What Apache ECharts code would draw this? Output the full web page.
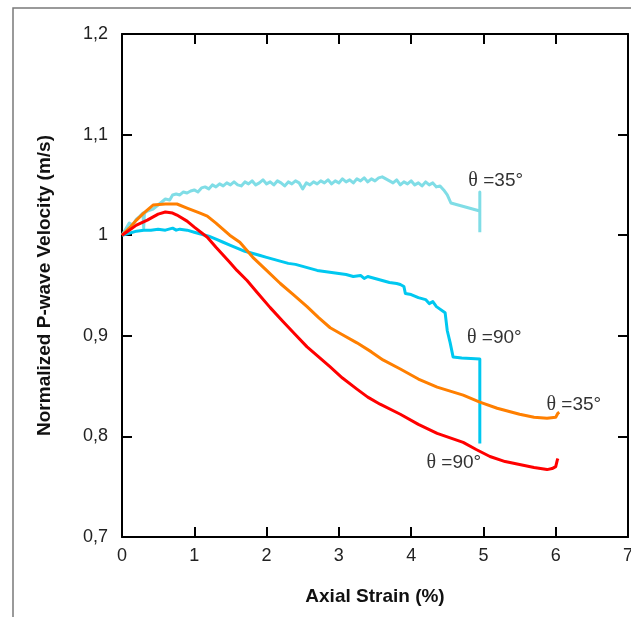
<!DOCTYPE html>
<html>
<head>
<meta charset="utf-8">
<script src="https://cdn.jsdelivr.net/npm/echarts@6/dist/echarts.min.js"></script>
<style>html,body{margin:0;padding:0;background:#fff}#c{width:631px;height:617px}</style>
</head>
<body>
<div id="c"></div>
<script>
// Light cyan: theta = 35° (upper curve)
const strainA = [0,0.05,0.1,0.15,0.2,0.25,0.29,0.3,0.31,0.35,0.43,0.5,0.55,0.6,0.66,0.7,0.75,0.8,0.85,0.9,0.95,1.0,1.05,1.1,1.15,1.2,1.25,1.3,1.35,1.4,1.45,1.5,1.55,1.6,1.65,1.7,1.75,1.8,1.85,1.9,1.95,2.0,2.05,2.1,2.15,2.2,2.25,2.3,2.35,2.4,2.45,2.5,2.55,2.6,2.65,2.7,2.75,2.8,2.85,2.9,2.95,3.0,3.05,3.1,3.15,3.2,3.25,3.3,3.35,3.4,3.45,3.5,3.55,3.6,3.65,3.7,3.75,3.8,3.85,3.9,3.95,4.0,4.05,4.1,4.15,4.2,4.25,4.3,4.35,4.4,4.45,4.5,4.55,4.6,4.7,4.8,4.95,4.95,4.95];
const velA = [1.000,1.006,1.012,1.010,1.016,1.019,1.022,1.007,1.022,1.024,1.026,1.030,1.033,1.036,1.035,1.040,1.041,1.040,1.043,1.042,1.044,1.045,1.043,1.047,1.048,1.046,1.050,1.048,1.051,1.049,1.052,1.050,1.053,1.050,1.049,1.053,1.051,1.054,1.050,1.052,1.055,1.051,1.053,1.050,1.054,1.052,1.049,1.053,1.051,1.054,1.052,1.046,1.052,1.050,1.053,1.051,1.054,1.052,1.055,1.051,1.054,1.052,1.056,1.053,1.055,1.052,1.056,1.054,1.057,1.053,1.056,1.054,1.057,1.058,1.056,1.054,1.052,1.055,1.050,1.053,1.051,1.054,1.050,1.052,1.049,1.053,1.050,1.052,1.048,1.049,1.045,1.040,1.032,1.031,1.029,1.027,1.024,1.043,1.003];

// Cyan: theta = 90° (upper curve)
const strainB = [0,0.1,0.2,0.3,0.4,0.5,0.6,0.7,0.75,0.8,0.9,1.0,1.1,1.2,1.3,1.4,1.5,1.6,1.7,1.8,1.9,2.0,2.1,2.2,2.3,2.4,2.5,2.6,2.7,2.8,2.9,3.0,3.1,3.2,3.3,3.35,3.4,3.5,3.6,3.7,3.8,3.85,3.9,3.92,4.0,4.1,4.2,4.25,4.3,4.35,4.47,4.5,4.54,4.58,4.7,4.95,4.95];
const velB = [1.000,1.002,1.004,1.005,1.005,1.006,1.005,1.007,1.005,1.006,1.005,1.003,1.001,0.999,0.996,0.993,0.990,0.987,0.984,0.982,0.980,0.978,0.976,0.974,0.972,0.971,0.969,0.967,0.965,0.964,0.963,0.962,0.961,0.959,0.960,0.957,0.959,0.957,0.955,0.953,0.952,0.951,0.949,0.942,0.941,0.938,0.936,0.932,0.934,0.929,0.923,0.905,0.893,0.879,0.878,0.877,0.793];

// Orange: theta = 35° (lower curve)
const strainC = [0,0.1,0.2,0.3,0.43,0.6,0.76,0.9,1.08,1.18,1.3,1.49,1.63,1.81,2.0,2.19,2.37,2.56,2.72,2.88,3.05,3.25,3.45,3.61,3.85,4.1,4.36,4.72,4.95,5.19,5.5,5.7,5.88,6.0,6.03,6.05];
const velC = [1.000,1.007,1.015,1.022,1.030,1.031,1.031,1.027,1.022,1.019,1.012,1.000,0.993,0.978,0.965,0.952,0.941,0.929,0.918,0.908,0.901,0.893,0.884,0.876,0.867,0.857,0.849,0.841,0.834,0.828,0.822,0.819,0.818,0.819,0.823,0.824];

// Red: theta = 90° (lower curve)
const strainD = [0,0.1,0.2,0.35,0.5,0.6,0.7,0.76,0.9,1.0,1.18,1.3,1.49,1.59,1.73,1.87,2.05,2.23,2.4,2.56,2.72,2.88,3.05,3.25,3.4,3.57,3.85,4.1,4.36,4.72,4.9,5.09,5.3,5.5,5.7,5.88,5.95,6.0,6.02,6.03];
const velD = [1.000,1.005,1.010,1.015,1.021,1.023,1.022,1.020,1.014,1.008,0.998,0.988,0.973,0.965,0.955,0.943,0.928,0.914,0.901,0.889,0.879,0.869,0.858,0.847,0.839,0.832,0.822,0.812,0.803,0.794,0.787,0.780,0.775,0.772,0.769,0.767,0.768,0.770,0.776,0.778];

const seriesNames = ['θ=35° (A)','θ=90° (A)','θ=35° (B)','θ=90° (B)'];
const curveLabels = ['=35°','=90°','=35°','=90°'];
const labelAt = [[5.17,1.054],[5.15,0.898],[6.25,0.831],[4.59,0.774]];
const xTicks = [0,7,1];
const yTicks = [0.7,1.2,0.1];
const colors = ['#80DDE6','#00C8F0','#FF7F00','#FF0000'];

const strains = [strainA,strainB,strainC,strainD];
const vels = [velA,velB,velC,velD];

const chart = echarts.init(document.getElementById('c'));
const axisLineStyle = {color:'#000', width:2};
const fmtY = v => (Math.round(v*10)/10).toString().replace('.', ',');

chart.setOption({
  animation:false,
  backgroundColor:'#fff',
  graphic:[{
    type:'polyline', silent:true,
    shape:{points:[[13,617],[13,8],[631,8]]},
    style:{stroke:'#7a7a7a', lineWidth:1.5, fill:null}
  }],
  grid:{left:122, right:3, top:34, bottom:80, containLabel:false, outerBoundsMode:'none'},
  xAxis:[{
    type:'value', min:xTicks[0], max:xTicks[1], interval:xTicks[2],
    position:'bottom',
    name:'Axial Strain (%)', nameLocation:'middle', nameGap:50,
    nameTextStyle:{fontFamily:'Liberation Sans, Arial', fontWeight:'bold', fontSize:19, color:'#111'},
    axisLine:{show:true, onZero:false, lineStyle:axisLineStyle},
    axisTick:{show:true, inside:true, length:10, lineStyle:axisLineStyle},
    axisLabel:{fontFamily:'Liberation Sans, Arial', fontSize:18, color:'#222', margin:10},
    splitLine:{show:false}
  },{
    type:'value', min:xTicks[0], max:xTicks[1], interval:xTicks[2],
    position:'top',
    axisLine:{show:true, onZero:false, lineStyle:axisLineStyle},
    axisTick:{show:true, inside:true, length:10, lineStyle:axisLineStyle},
    axisLabel:{show:false},
    splitLine:{show:false}
  }],
  yAxis:[{
    type:'value', min:yTicks[0], max:yTicks[1], interval:yTicks[2],
    position:'left',
    name:'Normalized P-wave Velocity (m/s)', nameLocation:'middle', nameGap:68,
    nameTextStyle:{fontFamily:'Liberation Sans, Arial', fontWeight:'bold', fontSize:19, color:'#111'},
    axisLine:{show:true, onZero:false, lineStyle:axisLineStyle},
    axisTick:{show:true, inside:true, length:10, lineStyle:axisLineStyle},
    axisLabel:{fontFamily:'Liberation Sans, Arial', fontSize:18, color:'#222', margin:14, formatter:fmtY},
    splitLine:{show:false}
  },{
    type:'value', min:yTicks[0], max:yTicks[1], interval:yTicks[2],
    position:'right',
    axisLine:{show:true, onZero:false, lineStyle:axisLineStyle},
    axisTick:{show:true, inside:true, length:10, lineStyle:axisLineStyle},
    axisLabel:{show:false},
    splitLine:{show:false}
  }],
  series: strains.map((xs, k) => ({
    type:'line', name:seriesNames[k],
    xAxisIndex:0, yAxisIndex:0,
    showSymbol:false, symbol:'none',
    lineStyle:{color:colors[k], width:3, join:'round'},
    itemStyle:{color:colors[k]},
    data: xs.map((x,i)=>[x, vels[k][i]]),
    z: 2 + k,
    markPoint:{
      symbol:'circle', symbolSize:0, silent:true,
      data:[{coord:labelAt[k]}],
      label:{
        show:true, position:'inside',
        formatter:'{t|θ} ' + curveLabels[k],
        fontFamily:'Liberation Sans, Arial', fontSize:19, color:'#333',
        rich:{t:{fontFamily:'Liberation Serif, Times New Roman', fontSize:20, color:'#333'}}
      }
    }
  }))
});
</script>
</body>
</html>
